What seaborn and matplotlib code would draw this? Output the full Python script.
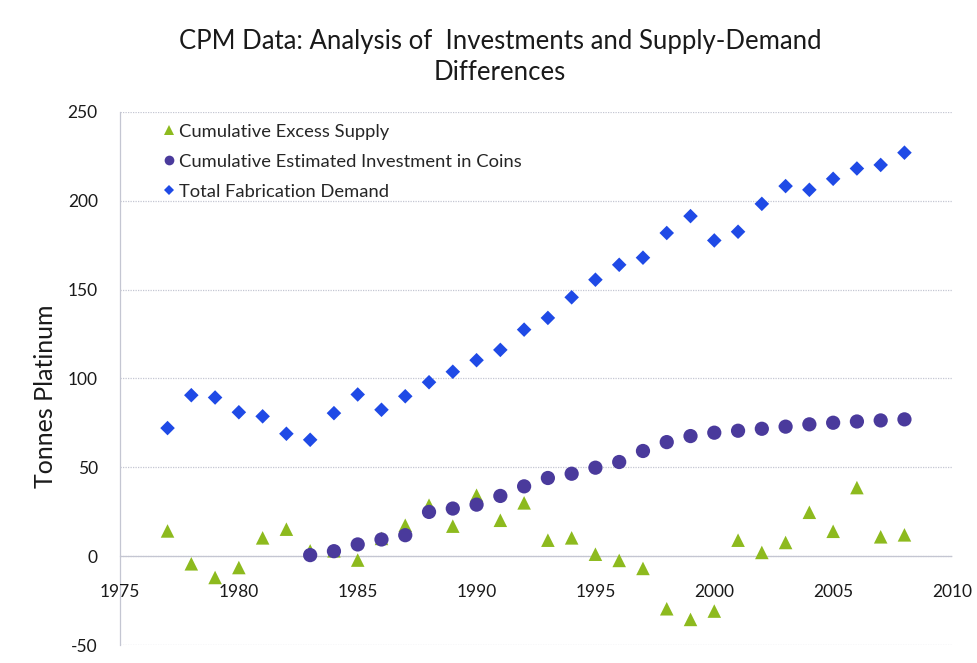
import matplotlib
matplotlib.use("Agg")
import matplotlib.pyplot as plt
from matplotlib.lines import Line2D
import pandas as pd
import seaborn as sns

# Tonnes of platinum by year
supply_years = list(range(1977, 2009))
excess_supply = [14.2, -4.3, -12.0, -6.4, 10.3, 15.2, 3.0, 3.0, -2.2, 10.0,
                 17.4, 28.7, 16.9, 34.3, 20.2, 30.0, 9.0, 10.3, 1.1, -2.4,
                 -6.9, -29.6, -35.6, -30.9, 9.0, 2.1, 7.7, 24.7, 14.0, 38.6,
                 10.9, 12.0]

coin_years = list(range(1983, 2009))
coin_investment = [0.6, 2.8, 6.6, 9.4, 11.8, 24.9, 26.8, 29.0, 33.9, 39.3,
                   44.0, 46.4, 49.8, 53.0, 59.2, 64.2, 67.6, 69.5, 70.6, 71.7,
                   72.9, 74.2, 75.1, 75.8, 76.4, 77.0]

fabrication_years = list(range(1977, 2009))
fabrication_demand = [72.1, 90.6, 89.3, 81.0, 78.7, 68.9, 65.5, 80.5, 91.0, 82.4,
                      90.0, 97.9, 103.8, 110.3, 116.1, 127.5, 134.1, 145.7, 155.6, 164.0,
                      168.0, 181.9, 191.4, 177.7, 182.6, 198.3, 208.3, 206.2, 212.4, 218.2,
                      220.2, 227.1]

series_names = ["Cumulative Excess Supply",
                "Cumulative Estimated Investment in Coins",
                "Total Fabrication Demand"]
x_ticks = [1975, 1980, 1985, 1990, 1995, 2000, 2005, 2010]
y_ticks = [-50, 0, 50, 100, 150, 200, 250]

frames = [
    pd.DataFrame({"Year": supply_years, "Tonnes": excess_supply, "Series": series_names[0]}),
    pd.DataFrame({"Year": coin_years, "Tonnes": coin_investment, "Series": series_names[1]}),
    pd.DataFrame({"Year": fabrication_years, "Tonnes": fabrication_demand, "Series": series_names[2]}),
]
df = pd.concat(frames, ignore_index=True)

sns.set_theme(style="white")
plt.rcParams["font.family"] = ["Lato", "DejaVu Sans"]
plt.rcParams["axes.unicode_minus"] = False

fig = plt.figure(figsize=(9.77, 6.63), dpi=100)
ax = fig.add_axes([120 / 977, 1 - 645 / 663, (952 - 120) / 977, (645 - 112) / 663])

palette = {series_names[0]: "#8dba1e",
           series_names[1]: "#4a3a9c",
           series_names[2]: "#1f4ae6"}
markers = {series_names[0]: "^",
           series_names[1]: "o",
           series_names[2]: "D"}
marker_sizes = {series_names[0]: 95,
                series_names[1]: 105,
                series_names[2]: 55}
legend_marker_sizes = {series_names[0]: 7.0,
                       series_names[1]: 7.0,
                       series_names[2]: 5.2}

sns.scatterplot(data=df, x="Year", y="Tonnes", hue="Series", style="Series",
                size="Series", sizes=marker_sizes,
                palette=palette, markers=markers, linewidth=0, ax=ax,
                legend=False)

ax.set_xlim(1975, 2010)
ax.set_ylim(-50, 250)
ax.set_xticks(x_ticks)
ax.set_yticks(y_ticks)
ax.tick_params(axis="both", length=0, labelsize=12.5, colors="#1a1a1a")
ax.tick_params(axis="x", pad=20)
ax.tick_params(axis="y", pad=16)

grid_color = "#c4c6d2"
for y in y_ticks:
    ax.axhline(y, color=grid_color, linestyle=(0, (1, 1)), linewidth=0.9, zorder=0)

for side in ["top", "right"]:
    ax.spines[side].set_visible(False)
ax.spines["bottom"].set_position(("data", 0))
for side in ["left", "bottom"]:
    ax.spines[side].set_color(grid_color)
    ax.spines[side].set_linestyle((0, (1, 1)))
    ax.spines[side].set_linewidth(0.9)
    ax.spines[side].set_zorder(0)

ax.set_xlabel("")
ax.set_ylabel("Tonnes Platinum", fontsize=18, color="#1a1a1a")
ax.yaxis.set_label_coords(-0.076, 0.467)

handles = [Line2D([], [], linestyle="none", marker=markers[name],
                  markersize=legend_marker_sizes[name],
                  markerfacecolor=palette[name], markeredgewidth=0)
           for name in series_names]
ax.legend(handles, series_names, loc="upper left", bbox_to_anchor=(0.0523, 0.978),
          frameon=False, fontsize=13.2, labelspacing=0.76, handlelength=0.6,
          handletextpad=0.25, borderpad=0, borderaxespad=0)

fig.text(500 / 977, 1 - 42 / 663, "CPM Data: Analysis of  Investments and Supply-Demand",
         ha="center", va="center", fontsize=18.5, color="#1a1a1a")
fig.text(500 / 977, 1 - 73 / 663, "Differences",
         ha="center", va="center", fontsize=18.5, color="#1a1a1a")

fig.savefig("out.png", dpi=100)
